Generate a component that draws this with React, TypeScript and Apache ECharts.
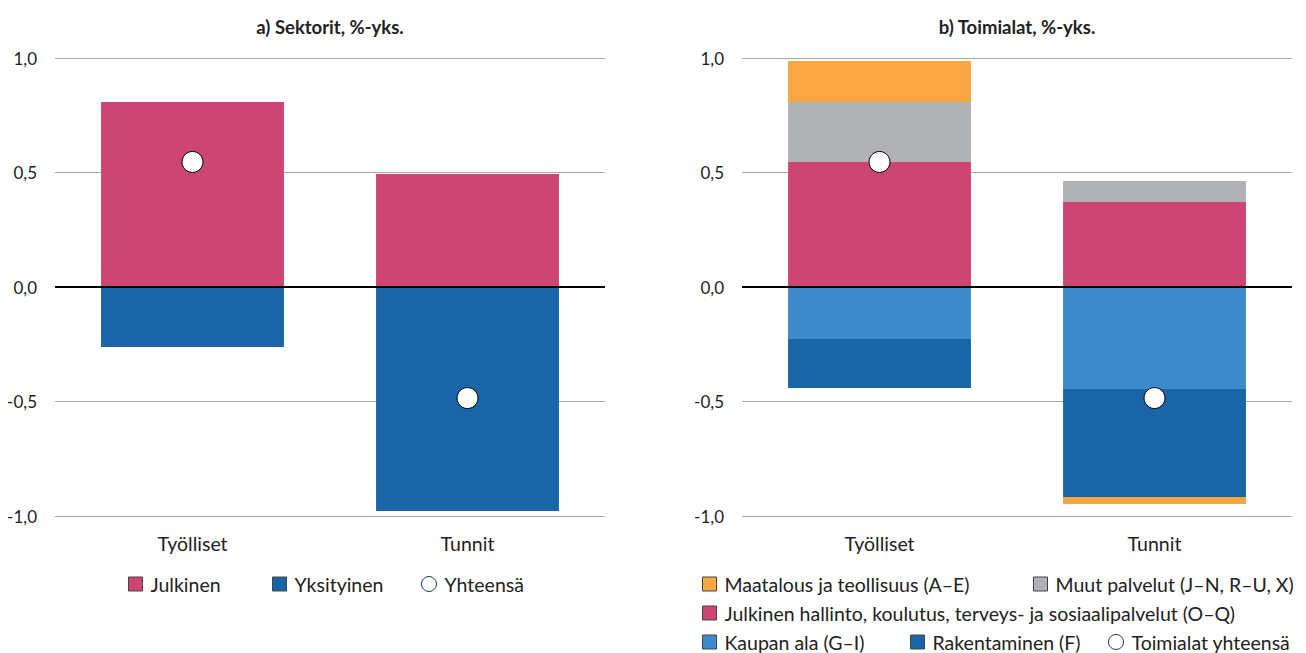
import React, { useEffect, useRef } from "react";
import * as echarts from "echarts";

const categories = ["Työlliset", "Tunnit"];
// Panel a) Sektorit
const julkinen = [0.808, 0.493];
const yksityinen = [-0.262, -0.978];
const yhteensa = [0.546, -0.485];
// Panel b) Toimialat
const julkinenHallinto = [0.546, 0.371];
const muutPalvelut = [0.262, 0.092];
const kaupanAla = [-0.227, -0.445];
const rakentaminen = [-0.214, -0.472];
const maatalous = [0.179, -0.031];
const toimialatYhteensa = [0.546, -0.485];

const FONT = "Lato";
const C_PINK = "#CC4573";
const C_DBLUE = "#1A64A8";
const C_LBLUE = "#3D8BCB";
const C_GRAY = "#B1B2B5";
const C_ORANGE = "#F9A742";

const fmt = (v: number) => v.toFixed(1).replace(".", ",");

export default function App() {
  const ref = useRef<HTMLDivElement>(null);
  useEffect(() => {
    if (!ref.current) return;
    const chart = echarts.init(ref.current, null, { renderer: "svg" });
    const zeroLine = {
      silent: true,
      symbol: "none",
      label: { show: false },
      lineStyle: { color: "#000", width: 2, type: "solid" },
      data: [{ yAxis: 0 }],
    };
    const bar = (name: string, data: number[], color: string, idx: number, stack: string, withZero = false) => ({
      name,
      type: "bar",
      data,
      stack,
      xAxisIndex: idx,
      yAxisIndex: idx,
      barWidth: "66.5%",
      itemStyle: { color },
      markLine: withZero ? zeroLine : undefined,
      z: 2,
    });
    const dot = (name: string, data: number[], idx: number) => ({
      name,
      type: "scatter",
      data,
      xAxisIndex: idx,
      yAxisIndex: idx,
      symbol: "circle",
      symbolSize: 21,
      itemStyle: { color: "#fff", borderColor: "#000", borderWidth: 1, opacity: 1 },
      z: 5,
    });
    const yAxis = (gridIndex: number) => ({
      type: "value",
      gridIndex,
      min: -1,
      max: 1,
      interval: 0.5,
      axisLine: { show: false },
      axisTick: { show: false },
      axisLabel: { formatter: fmt, fontFamily: FONT, fontSize: 17, color: "#222", margin: 18 },
      splitLine: { lineStyle: { color: "#A8A8A8", width: 1 } },
    });
    const xAxis = (gridIndex: number) => ({
      type: "category",
      gridIndex,
      data: categories,
      axisLine: { show: false },
      axisTick: { show: false },
      axisLabel: { fontFamily: FONT, fontSize: 19.5, color: "#222", margin: 17 },
    });
    const legendText = { fontFamily: FONT, fontSize: 19.5, color: "#222", padding: [0, 0, 0, 3] };
    const sq = (name: string, color: string, left: number, top: number) => ({
      left,
      top,
      padding: 0,
      itemWidth: 14,
      itemHeight: 14,
      textStyle: legendText,
      selectedMode: false,
      data: [{ name, icon: "rect", itemStyle: { color, borderColor: "#444", borderWidth: 1 } }],
    });
    const circ = (name: string, left: number, top: number) => ({
      left,
      top,
      padding: 0,
      itemWidth: 15,
      itemHeight: 15,
      textStyle: legendText,
      selectedMode: false,
      data: [{ name, icon: "circle", itemStyle: { color: "#fff", borderColor: "#1f3550", borderWidth: 1 } }],
    });
    const titleStyle = { fontFamily: FONT, fontSize: 18.5, fontWeight: "bold", color: "#222" };
    chart.setOption({
      animation: false,
      title: [
        { text: "a) Sektorit, %-yks.", left: 330, top: 17, padding: 0, textAlign: "center", textStyle: titleStyle },
        { text: "b) Toimialat, %-yks.", left: 1017, top: 17, padding: 0, textAlign: "center", textStyle: titleStyle },
      ],
      grid: [
        { left: 55, top: 58, width: 550, height: 458 },
        { left: 742, top: 58, width: 550, height: 458 },
      ],
      xAxis: [xAxis(0), xAxis(1)],
      yAxis: [yAxis(0), yAxis(1)],
      legend: [
        sq("Julkinen", C_PINK, 128, 574),
        sq("Yksityinen", C_DBLUE, 272, 574),
        circ("Yhteensä", 421, 574),
        sq("Maatalous ja teollisuus (A–E)", C_ORANGE, 702, 574),
        sq("Muut palvelut (J–N, R–U, X)", C_GRAY, 1033, 574),
        sq("Julkinen hallinto, koulutus, terveys- ja sosiaalipalvelut (O–Q)", C_PINK, 702, 603),
        sq("Kaupan ala (G–I)", C_LBLUE, 702, 632),
        sq("Rakentaminen (F)", C_DBLUE, 910, 632),
        circ("Toimialat yhteensä", 1108, 632),
      ],
      series: [
        bar("Julkinen", julkinen, C_PINK, 0, "a", true),
        bar("Yksityinen", yksityinen, C_DBLUE, 0, "a"),
        dot("Yhteensä", yhteensa, 0),
        bar("Julkinen hallinto, koulutus, terveys- ja sosiaalipalvelut (O–Q)", julkinenHallinto, C_PINK, 1, "b", true),
        bar("Muut palvelut (J–N, R–U, X)", muutPalvelut, C_GRAY, 1, "b"),
        bar("Kaupan ala (G–I)", kaupanAla, C_LBLUE, 1, "b"),
        bar("Rakentaminen (F)", rakentaminen, C_DBLUE, 1, "b"),
        bar("Maatalous ja teollisuus (A–E)", maatalous, C_ORANGE, 1, "b"),
        dot("Toimialat yhteensä", toimialatYhteensa, 1),
      ],
    });
    return () => chart.dispose();
  }, []);
  return (
    <div
      ref={ref}
      style={{ position: "fixed", left: 0, top: 0, width: 1306, height: 653, background: "#fff" }}
    />
  );
}
